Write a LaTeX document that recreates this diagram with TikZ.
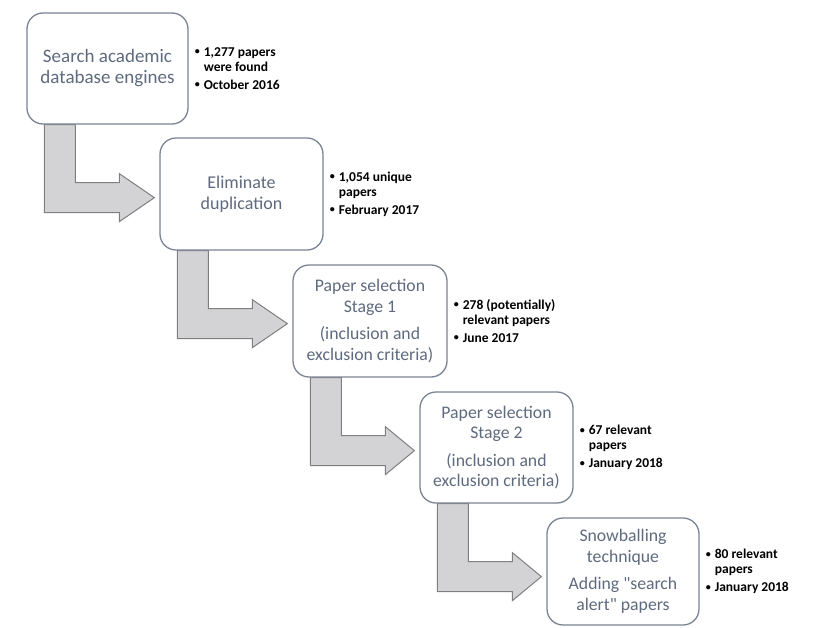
\documentclass[tikz,border=0pt]{standalone}
\usepackage{fontspec}
\setmainfont{Carlito}[Ligatures=TeXOff]
\usetikzlibrary{calc}
\pgfdeclarelayer{bg}
\pgfsetlayers{bg,main}
\definecolor{boxline}{HTML}{7A8494}
\definecolor{boxtext}{HTML}{5E6A7E}
\definecolor{arrfill}{HTML}{D3D3D5}
\definecolor{arrline}{HTML}{7F7F7F}
\tikzset{
  stepbox/.style={draw=boxline, line width=1.3pt, fill=white, rounded corners=16pt,
    inner sep=0pt, align=center, text=boxtext, font=\fontsize{18}{20.5}\selectfont},
  bigtext/.style={font=\fontsize{19}{21}\selectfont},
  smalltext/.style={font=\fontsize{17.7}{20.5}\selectfont},
  notes/.style={anchor=west, inner sep=0pt, align=left, text=black,
    font=\fontsize{13.5}{15}\selectfont\bfseries},
  blockarrow/.style={draw=arrline, fill=arrfill, line width=1pt, line join=miter},
}
\newcommand{\dotmark}{\makebox[10pt][l]{\hspace*{1pt}\raisebox{1.6pt}{\fontsize{10}{10}\selectfont\textbullet}}}
\newcommand{\itm}[1]{\dotmark#1}
\newcommand{\cnt}[1]{\hspace*{10pt}#1}
\newcommand{\blkarrow}[2]{%
  \coordinate (#1tipx) at ($(#2.west)+(-5,0)$);
  \coordinate (#1tipy) at ($(#1.south west)+(0,73)$);
  \begin{pgfonlayer}{bg}
  \draw[blockarrow] ($(#1.south west)+(18,0)$) -- ($(#1.south west)+(49,0)$)
    -- ($(#1.south west)+(49,58)$) -- ($(#1.south west)+(93,58)$)
    -- ($(#1.south west)+(93,49)$) -- (#1tipx |- #1tipy)
    -- ($(#1.south west)+(93,97)$) -- ($(#1.south west)+(93,88)$)
    -- ($(#1.south west)+(18,88)$) -- cycle;
  \end{pgfonlayer}}
\begin{document}
\begin{tikzpicture}[x=1pt,y=-1pt]
\useasboundingbox (0,0) rectangle (830,627);
\node[stepbox, bigtext, minimum width=161pt, minimum height=111pt] (b1) at (107.5,68.5)
  {Search academic\\database engines};
\node[stepbox, minimum width=163pt, minimum height=112pt] (b2) at (241.5,194)
  {Eliminate\\duplication};
\node[stepbox, smalltext, minimum width=154pt, minimum height=112pt] (b3) at (370,321)
  {Paper selection\\Stage 1\\[7pt](inclusion and\\exclusion criteria)};
\node[stepbox, smalltext, minimum width=153pt, minimum height=111pt] (b4) at (496.5,447.5)
  {Paper selection\\Stage 2\\[7pt](inclusion and\\exclusion criteria)};
\node[stepbox, smalltext, minimum width=152pt, minimum height=107pt] (b5) at (623,571.5)
  {Snowballing\\technique\\[7pt]Adding "search\\alert" papers};

\node[notes] (n1) at ($(b1.east)+(5,0)$) {\itm{1,277 papers}\\\cnt{were found}\\[3pt]\itm{October 2016}};
\node[notes] (n2) at ($(b2.east)+(5,0)$) {\itm{1,054 unique}\\\cnt{papers}\\[3pt]\itm{February 2017}};
\node[notes] (n3) at ($(b3.east)+(5,0)$) {\itm{278 (potentially)}\\\cnt{relevant papers}\\[3pt]\itm{June 2017}};
\node[notes] (n4) at ($(b4.east)+(5,0)$) {\itm{67 relevant}\\\cnt{papers}\\[3pt]\itm{January 2018}};
\node[notes] (n5) at ($(b5.east)+(5,0)$) {\itm{80 relevant}\\\cnt{papers}\\[3pt]\itm{January 2018}};

\blkarrow{b1}{b2}
\blkarrow{b2}{b3}
\blkarrow{b3}{b4}
\blkarrow{b4}{b5}
\end{tikzpicture}
\end{document}
